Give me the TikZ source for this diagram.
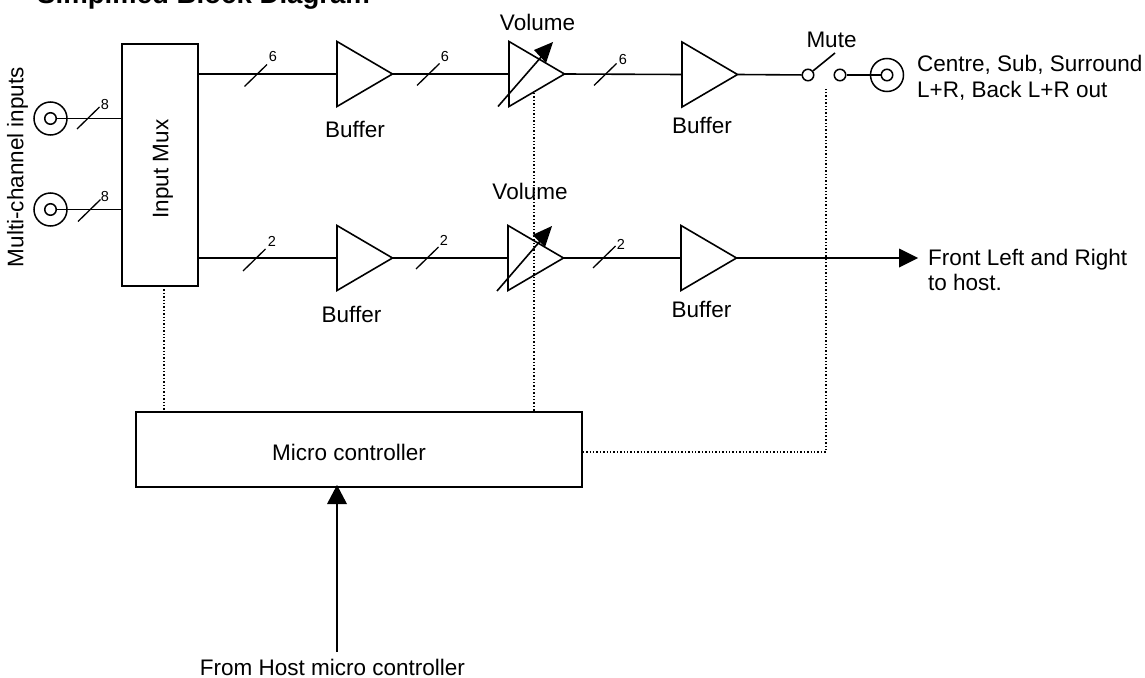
\documentclass[tikz,border=0pt]{standalone}
\usepackage{fontspec}
\setmainfont{Liberation Sans}
\tikzset{
 wire/.style={draw=black,line width=1.6pt},
 txt/.style={inner sep=0pt,font=\fontsize{22.5}{25.5}\selectfont,text=black},
 num/.style={inner sep=0pt,font=\fontsize{14.5}{16}\selectfont,text=black},
 boxn/.style={draw=black,line width=1.6pt,fill=white,inner sep=0pt},
 ring/.style={circle,draw=black,line width=1.5pt,inner sep=0pt,minimum size=33pt},
 hole/.style={circle,draw=black,line width=1.5pt,inner sep=0pt,minimum size=11.5pt},
 ctl/.style={draw=black,line width=1.3pt,dash pattern=on 1.4pt off 2pt},
 tip/.style={fill=black,draw=none},
}
\newcommand{\tri}[3]{% name, left x, mid y
 \coordinate (#1a) at (#2,#3-32.5);
 \coordinate (#1b) at (#2,#3+32.5);
 \coordinate (#1in) at (#2,#3);
 \coordinate (#1out) at (#2+55.5,#3);
 \draw[wire,line join=miter] (#1a) -- (#1out) -- (#1b) -- cycle;
}
\begin{document}
\begin{tikzpicture}[x=1pt,y=-1pt]
\useasboundingbox (0,0) rectangle (1145,677);
\fill[white] (0,0) rectangle (1145,677);
% title
\node[anchor=base west,inner sep=0pt,font=\bfseries\fontsize{27.6}{30}\selectfont] (title) at (37,3.5) {Simplified Block Diagram};
% boxes
\node[boxn,minimum width=76pt,minimum height=242pt] (mux) at (160,165) {};
\node[inner sep=0pt,rotate=90,font=\fontsize{22.5}{25}\selectfont] (muxl) at (163,169) {Input Mux};
\node[boxn,minimum width=446pt,minimum height=75pt] (mcu) at (359,449.5) {};
\node[txt] (mcul) at (349,452) {Micro controller};
% control lines
\coordinate (v1c) at (534,93);
\coordinate (muxd) at (164,286);
\coordinate (mt) at (826,88);
\coordinate (mc) at (826,452);
\draw[ctl] (muxd) -- (muxd |- mcu.north);
\draw[ctl] (v1c) -- (v1c |- mcu.north);
\draw[ctl] (mcu.east |- mc) -- (mc) -- (mt);
% jacks
\node[ring] (j1) at (50.5,118.5) {};
\node[hole,fill=white] (j1h) at (50.5,118.5) {};
\node[ring] (j2) at (50.5,209.5) {};
\node[hole,fill=white] (j2h) at (50.5,209.5) {};
\node[ring] (j3) at (887,75) {};
\node[hole,fill=white] (j3h) at (887,75) {};
\draw[wire] (j1h) -- (mux.west |- j1h);
\draw[wire] (j2h) -- (mux.west |- j2h);
\node[txt,rotate=90] (mci) at (17.5,167) {Multi-channel inputs};
% triangles
\tri{b1}{337}{74}
\tri{v1}{509}{74}
\tri{b2}{682}{74.5}
\tri{b3}{337}{258}
\tri{v2}{508}{258}
\tri{b4}{681}{258}
% wires
\draw[wire] (mux.east |- b1in) -- (b1in);
\draw[wire] (b1out) -- (v1in);
\draw[wire] (v1out) -- (b2in);
\draw[wire] (mux.east |- b3in) -- (b3in);
\draw[wire] (b3out) -- (v2in);
\draw[wire] (v2out) -- (b4in);
% switch
\node[hole] (s1) at (808,75) {};
\node[hole] (s2) at (840,75) {};
\coordinate (blade) at (835,53);
\draw[wire] (b2out) -- (s1);
\draw[wire] (s1) -- (blade);
\draw[wire] (s2) -- (j3h);
% arrows
\coordinate (fr) at (900,258);
\coordinate (frt) at (918,258);
\draw[wire] (b4out) -- (fr);
\fill[tip] (frt) -- (899,248.5) -- (899,267.5) -- cycle;
\coordinate (hb) at (337,652);
\coordinate (ht) at (337,485);
\draw[wire] (hb) -- (337,500);
\fill[tip] (ht) -- (327,504) -- (347,504) -- cycle;
% variable arrows
\coordinate (va1) at (498,106.5);
\coordinate (vb1) at (542,56);
\draw[wire] (va1) -- (vb1);
\fill[tip] (553,42) -- (534,50) -- (546,63) -- cycle;
\coordinate (va2) at (497,291);
\coordinate (vb2) at (541,240);
\draw[wire] (va2) -- (vb2);
\fill[tip] (552,226) -- (532.5,235) -- (545,247) -- cycle;
% slashes
\foreach \n/\xa/\ya/\t/\lx/\ly in {a/77/129/8/105/105, b/78/221.5/8/105/197, c/244.5/86.5/6/273/57, d/417/85.5/6/445/57, e/594/85.5/6/623/60, f/243/271/2/272/241, g/416/269/2/444/240, h/593/268/2/621/244}{
 \coordinate (sl\n) at (\xa,\ya);
 \draw[wire,line width=1.3pt] (sl\n) -- ++(22.5,-22);
 \node[num] (lb\n) at (\lx,\ly) {\t};
}
% labels
\node[txt] (volA) at (537.5,22) {Volume};
\node[txt] (volB) at (530,191.5) {Volume};
\node[txt] (bufA) at (355,129) {Buffer};
\node[txt] (bufB) at (702,125) {Buffer};
\node[txt] (bufC) at (351.5,314) {Buffer};
\node[txt] (bufD) at (701.5,309) {Buffer};
\node[txt] (mute) at (831.5,40) {Mute};
\node[txt,anchor=west,align=left] (outl) at (917,78) {Centre, Sub, Surround\\L+R, Back L+R out};
\node[txt,anchor=west,align=left] (frl) at (928,270) {Front Left and Right\\to host.};
\node[txt,anchor=base] (host) at (332.5,675) {From Host micro controller};
\end{tikzpicture}
\end{document}
